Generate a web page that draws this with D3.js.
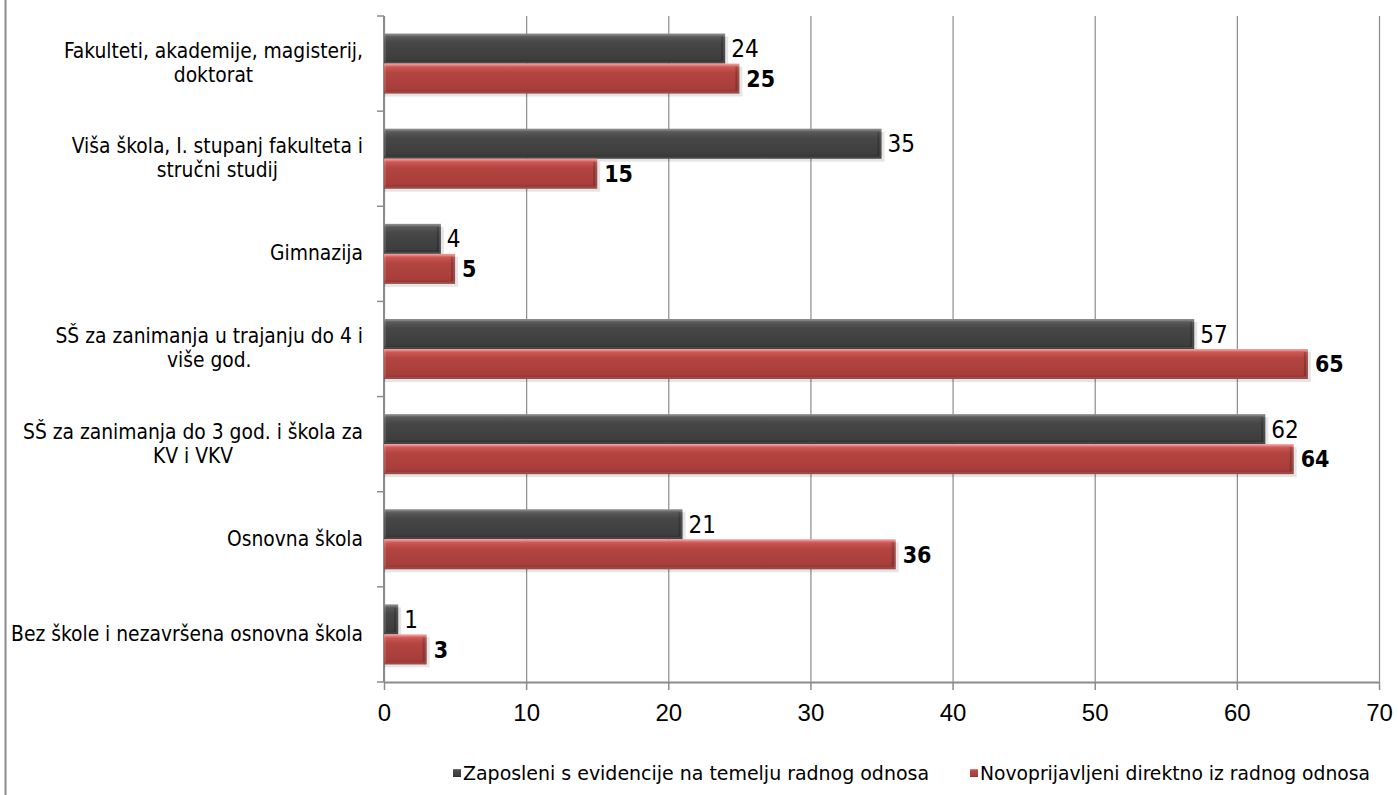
<!DOCTYPE html>
<html>
<head>
<meta charset="utf-8">
<script src="https://cdn.jsdelivr.net/npm/d3@7"></script>
<style>
  body { margin: 0; background: #fff; }
  svg { display: block; font-family: 'DejaVu Sans Condensed', 'DejaVu Sans', sans-serif; font-stretch: condensed; }
</style>
</head>
<body>
<div id="chart"></div>
<script>
const categories = [
  ['Fakulteti, akademije, magisterij,', 'doktorat'],
  ['Viša škola, I. stupanj fakulteta i', 'stručni studij'],
  ['Gimnazija'],
  ['SŠ za zanimanja u trajanju do 4 i', 'više god.'],
  ['SŠ za zanimanja do 3 god. i škola za', 'KV i VKV'],
  ['Osnovna škola'],
  ['Bez škole i nezavršena osnovna škola'],
];
const zaposleni = [24, 35, 4, 57, 62, 21, 1];
const novoprijavljeni = [25, 15, 5, 65, 64, 36, 3];
const seriesNames = ['Zaposleni s evidencije na temelju radnog odnosa', 'Novoprijavljeni direktno iz radnog odnosa'];
const xTicks = [0, 10, 20, 30, 40, 50, 60, 70];

const width = 1398;
const height = 795;
const plot = { left: 384, right: 1379, top: 16, bottom: 682 };

const svg = d3.select('#chart').append('svg')
  .attr('width', width)
  .attr('height', height);

// gradients for the bevelled bars
const defs = svg.append('defs');
function grad(id, stops, horizontal) {
  const g = defs.append('linearGradient').attr('id', id)
    .attr('x1', 0).attr('y1', 0).attr('x2', horizontal ? 1 : 0).attr('y2', horizontal ? 0 : 1);
  stops.forEach(([o, c, a]) => g.append('stop').attr('offset', o).attr('stop-color', c)
    .attr('stop-opacity', a === undefined ? 1 : a));
}
grad('gDark', [[0, '#7e7e7e'], [0.12, '#585858'], [0.3, '#474747'], [0.85, '#3d3d3d'], [1, '#2a2a2a']]);
grad('gRed', [[0, '#f29290'], [0.12, '#cc5653'], [0.3, '#b44541'], [0.85, '#a73d3a'], [1, '#88302d']]);

// frame line on the left
svg.append('line')
  .attr('x1', 5.5).attr('x2', 5.5).attr('y1', 0).attr('y2', height)
  .attr('stroke', '#8c8c8c').attr('stroke-width', 2);

const x = d3.scaleLinear().domain([0, 70]).range([plot.left, plot.right]);
const y = d3.scaleBand().domain(d3.range(categories.length)).range([plot.top, plot.bottom]);

// gridlines
svg.append('g')
  .attr('transform', `translate(0,${plot.bottom})`)
  .call(d3.axisBottom(x).tickValues(xTicks).tickFormat('').tickSize(-(plot.bottom - plot.top)).tickSizeOuter(0))
  .call(g => g.select('.domain').remove())
  .call(g => g.selectAll('.tick line').attr('stroke', '#8c8c8c').attr('stroke-width', 1.2));

// x axis
svg.append('g')
  .attr('transform', `translate(0,${plot.bottom})`)
  .call(d3.axisBottom(x).tickValues(xTicks).tickSize(8).tickSizeOuter(0).tickPadding(14))
  .call(g => g.select('.domain').attr('stroke', '#8c8c8c').attr('stroke-width', 2))
  .call(g => g.selectAll('.tick line').attr('stroke', '#8c8c8c').attr('stroke-width', 1.5))
  .call(g => g.selectAll('.tick text').attr('font-size', 24).attr('fill', '#000')
    .attr('font-family', null));

// y axis with ticks between categories
const yAxisG = svg.append('g');
yAxisG.append('line')
  .attr('x1', plot.left).attr('x2', plot.left)
  .attr('y1', plot.top).attr('y2', plot.bottom)
  .attr('stroke', '#8c8c8c').attr('stroke-width', 2);
yAxisG.selectAll('line.tk')
  .data(d3.range(categories.length + 1))
  .join('line')
  .attr('class', 'tk')
  .attr('x1', plot.left - 7).attr('x2', plot.left)
  .attr('y1', d => d < categories.length ? y(d) : plot.bottom)
  .attr('y2', d => d < categories.length ? y(d) : plot.bottom)
  .attr('stroke', '#8c8c8c').attr('stroke-width', 1.5);

// category labels: block right aligned, lines centred inside it
const labelRight = 363;
const lineH = 24;
categories.forEach((lines, i) => {
  const g = svg.append('g');
  const texts = lines.map(l => g.append('text')
    .attr('font-size', 20.8)
    .attr('fill', '#000')
    .attr('text-anchor', 'middle')
    .text(l));
  const maxW = d3.max(texts, t => t.node().getComputedTextLength());
  const cy = y(i) + y.bandwidth() / 2 - 1;
  texts.forEach((t, j) => {
    t.attr('x', labelRight - maxW / 2)
      .attr('y', cy + (j - (lines.length - 1) / 2) * lineH)
      .attr('dy', '0.36em');
  });
});

// bars
const barH = 30;
const series = [
  { values: zaposleni, fill: 'url(#gDark)', off: 0, weight: 'normal', size: 24, pad: 6 },
  { values: novoprijavljeni, fill: 'url(#gRed)', off: 1, weight: 'bold', size: 23, pad: 7 },
];
const barTop = (i, s) => y(i) + y.bandwidth() / 2 - barH + s.off * barH;

series.forEach(s => {
  const g = svg.append('g');
  // soft shadow
  g.selectAll('rect.sh')
    .data(s.values)
    .join('rect')
    .attr('class', 'sh')
    .attr('x', x(0))
    .attr('y', (d, i) => barTop(i, s) + 3)
    .attr('width', d => x(d) - x(0) + 3)
    .attr('height', barH)
    .attr('fill', '#000')
    .attr('opacity', 0.1);
  g.selectAll('rect.bar')
    .data(s.values)
    .join('rect')
    .attr('class', 'bar')
    .attr('x', x(0))
    .attr('y', (d, i) => barTop(i, s))
    .attr('width', d => x(d) - x(0))
    .attr('height', barH)
    .attr('fill', s.fill);
  // darker bevel at the end of the bar
  g.selectAll('rect.end')
    .data(s.values)
    .join('rect')
    .attr('class', 'end')
    .attr('x', d => x(d) - 4)
    .attr('y', (d, i) => barTop(i, s) + 3)
    .attr('width', 4)
    .attr('height', barH - 6)
    .attr('fill', '#000')
    .attr('opacity', 0.18);
  // bevel edges
  g.selectAll('rect.hl')
    .data(s.values)
    .join('rect')
    .attr('class', 'hl')
    .attr('x', x(0) + 1)
    .attr('y', (d, i) => barTop(i, s) + 1)
    .attr('width', d => Math.max(0, x(d) - x(0) - 2))
    .attr('height', barH - 2)
    .attr('fill', 'none')
    .attr('stroke', '#fff')
    .attr('stroke-opacity', 0.12)
    .attr('stroke-width', 2);
  g.selectAll('text')
    .data(s.values)
    .join('text')
    .attr('x', d => x(d) + s.pad)
    .attr('y', (d, i) => barTop(i, s) + barH / 2)
    .attr('dy', '0.36em')
    .attr('font-size', s.size)
    .attr('font-weight', s.weight)
    .attr('fill', '#000')
    .text(d => d);
});

// legend
const legend = svg.append('g').attr('transform', 'translate(0,773)');
const legendX = [453, 970];
const legendColors = ['url(#gDark)', 'url(#gRed)'];
const legendW = [466, 390];
seriesNames.forEach((name, i) => {
  legend.append('rect')
    .attr('x', legendX[i]).attr('y', -4)
    .attr('width', 8).attr('height', 8)
    .attr('fill', legendColors[i]);
  legend.append('text')
    .attr('x', legendX[i] + 10)
    .attr('y', 0)
    .attr('dy', '0.36em')
    .attr('font-size', 20)
    .attr('fill', '#000')
    .attr('textLength', legendW[i])
    .attr('lengthAdjust', 'spacingAndGlyphs')
    .text(name);
});
</script>
</body>
</html>
